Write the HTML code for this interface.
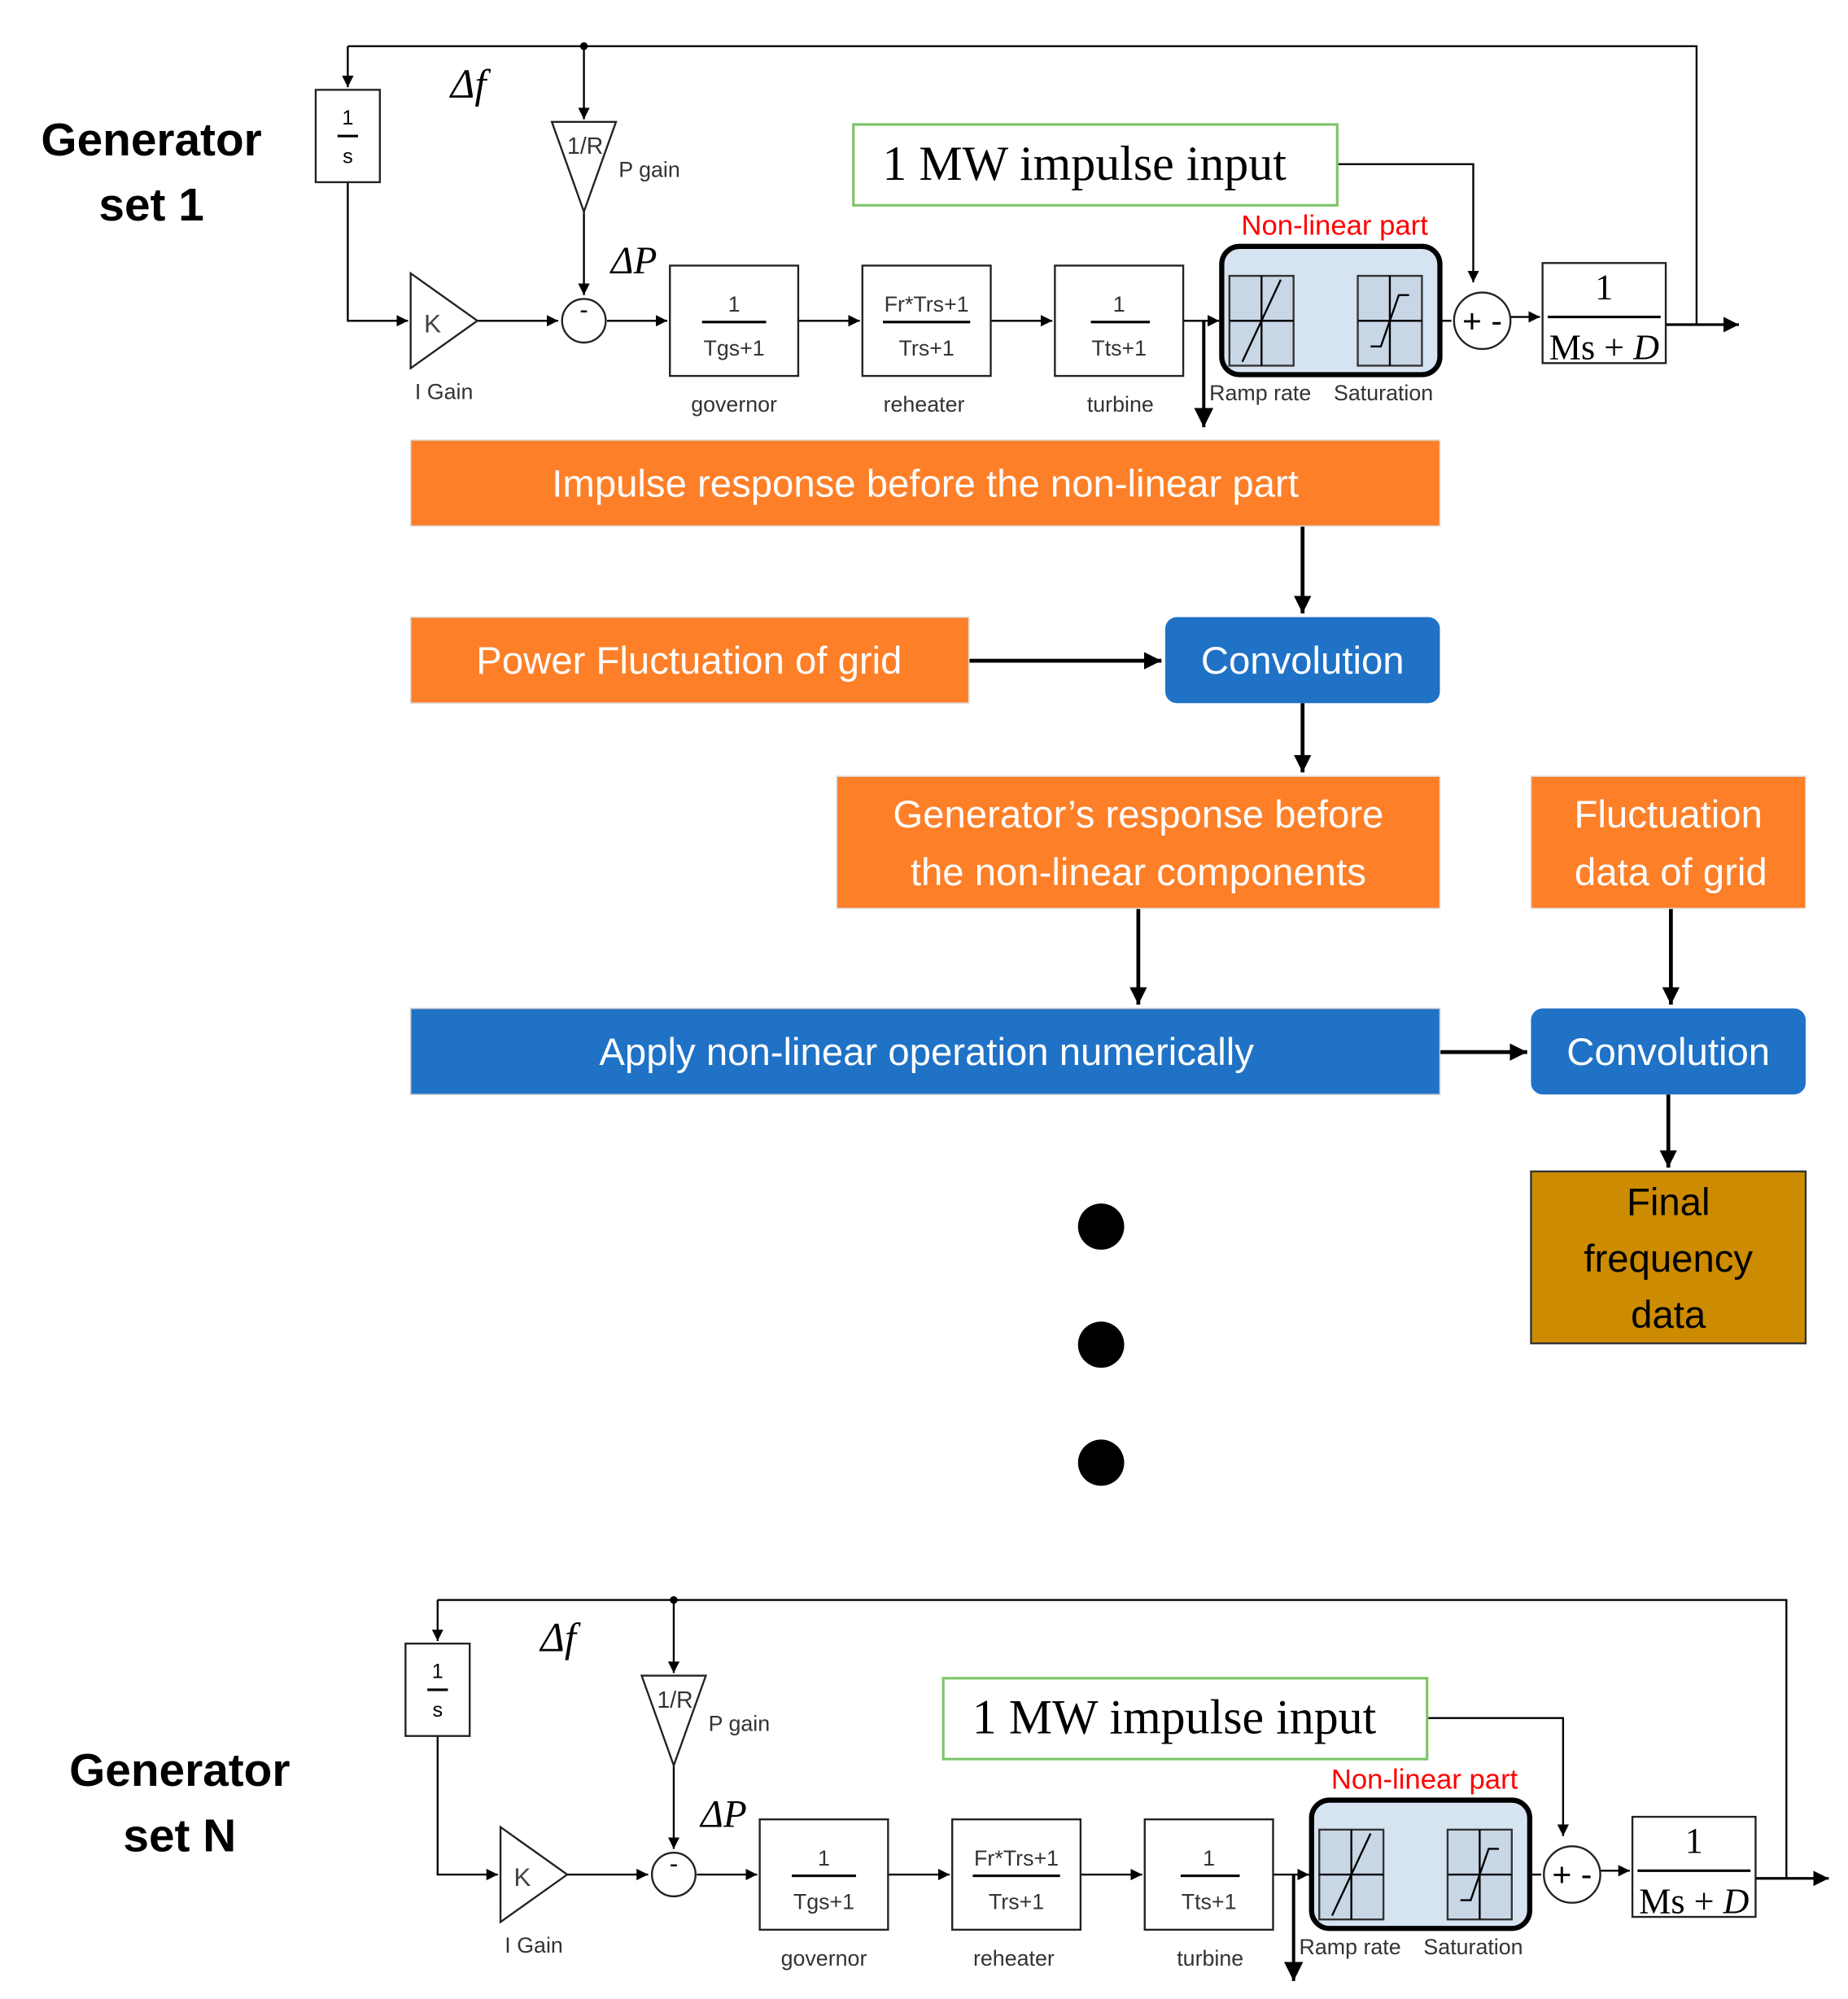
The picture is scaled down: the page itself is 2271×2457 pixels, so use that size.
<!DOCTYPE html>
<html><head><meta charset="utf-8"><style>
html,body{margin:0;padding:0;background:#fff;}
svg{display:block;font-family:"Liberation Sans",sans-serif;}
.wt{fill:#fff;font-size:30px;text-anchor:middle;}
.lb{font-size:17px;fill:#333;text-anchor:middle;font-family:"Liberation Sans Narrow","Liberation Sans",sans-serif;}
.sf{font-family:"Liberation Serif",serif;}
.blk{fill:#fff;stroke:#222;stroke-width:1.5;}
</style></head><body>
<svg width="2271" height="2457" viewBox="0 0 1440 1558" preserveAspectRatio="none" xmlns="http://www.w3.org/2000/svg">
<defs>
<marker id="a" viewBox="0 0 10 10" refX="10" refY="5" markerWidth="6" markerHeight="6" orient="auto"><path d="M0,0L10,5L0,10z" fill="#000"/></marker>
<marker id="b" viewBox="0 0 10 10" refX="10" refY="5" markerWidth="4.5" markerHeight="4.5" orient="auto"><path d="M0,0L10,5L0,10z" fill="#000"/></marker>
<g id="gen">
 <g stroke="#000" stroke-width="1.5" fill="none">
  <path d="M271,36H1322V253"/>
  <path d="M271,36V68" marker-end="url(#a)"/>
  <path d="M455,36V93" marker-end="url(#a)"/>
  <path d="M271,142V250H318" marker-end="url(#a)"/>
  <path d="M372,250H435" marker-end="url(#a)"/>
  <path d="M455,165V230" marker-end="url(#a)"/>
  <path d="M473,250H520" marker-end="url(#a)"/>
  <path d="M622,250H670" marker-end="url(#a)"/>
  <path d="M772,250H820" marker-end="url(#a)"/>
  <path d="M922,250H950" marker-end="url(#a)"/>
  <path d="M1008,250H1056" marker-end="url(#a)"/>
  <path d="M1108,250H1131"/>
  <path d="M1177,247H1200" marker-end="url(#a)"/>
  <path d="M1298,253H1355" marker-end="url(#a)" stroke-width="2"/>
  <path d="M1042,128H1148V220" marker-end="url(#a)"/>
  <path d="M938,250V333" marker-end="url(#a)" stroke-width="2.5"/>
 </g>
 <circle cx="455" cy="36" r="3" fill="#000"/>
 <rect class="blk" x="246" y="70" width="50" height="72"/>
 <text x="271" y="97" font-size="16" text-anchor="middle">1</text>
 <line x1="263" y1="106" x2="279" y2="106" stroke="#000" stroke-width="2"/>
 <text x="271" y="127" font-size="16" text-anchor="middle">s</text>
 <text x="365" y="76" font-size="32" font-style="italic" class="sf" text-anchor="middle">Δf</text>
 <polygon points="430,95 480,95 455,165" class="blk"/>
 <text x="456" y="120" font-size="18" text-anchor="middle" fill="#333">1/R</text>
 <text x="506" y="138" class="lb">P gain</text>
 <text x="494" y="213" font-size="30" font-style="italic" class="sf" text-anchor="middle">ΔP</text>
 <polygon points="320,213 372,250 320,287" class="blk"/>
 <text x="337" y="259" font-size="20" fill="#444" text-anchor="middle">K</text>
 <text x="346" y="311" class="lb">I Gain</text>
 <circle cx="455" cy="250" r="17" class="blk"/>
 <text x="455" y="248" font-size="20" text-anchor="middle">-</text>
 <rect class="blk" x="522" y="207" width="100" height="86"/>
 <text x="572" y="243" class="lb" font-size="20">1</text>
 <line x1="547" y1="251" x2="597" y2="251" stroke="#000" stroke-width="2"/>
 <text x="572" y="277" class="lb" font-size="20">Tgs+1</text>
 <text x="572" y="321" class="lb">governor</text>
 <rect class="blk" x="672" y="207" width="100" height="86"/>
 <text x="722" y="243" class="lb" font-size="19">Fr*Trs+1</text>
 <line x1="688" y1="251" x2="756" y2="251" stroke="#000" stroke-width="2"/>
 <text x="722" y="277" class="lb" font-size="20">Trs+1</text>
 <text x="720" y="321" class="lb">reheater</text>
 <rect class="blk" x="822" y="207" width="100" height="86"/>
 <text x="872" y="243" class="lb" font-size="20">1</text>
 <line x1="850" y1="251" x2="896" y2="251" stroke="#000" stroke-width="2"/>
 <text x="872" y="277" class="lb" font-size="20">Tts+1</text>
 <text x="873" y="321" class="lb">turbine</text>
 <rect x="952" y="192" width="170" height="100" rx="14" fill="#d6e3f0" stroke="#000" stroke-width="4"/>
 <rect x="958" y="215" width="50" height="70" fill="#c8d6e6" stroke="#333" stroke-width="1.5"/>
 <path d="M968,282L998,218M983,215V285M958,250H1008" stroke="#000" stroke-width="1.5" fill="none"/>
 <rect x="1058" y="215" width="50" height="70" fill="#c8d6e6" stroke="#333" stroke-width="1.5"/>
 <path d="M1068,270H1076L1090,230H1098M1083,215V285M1058,250H1108" stroke="#000" stroke-width="1.5" fill="none"/>
 <text x="982" y="312" class="lb">Ramp rate</text>
 <text x="1078" y="312" class="lb">Saturation</text>
 <text x="1040" y="183" font-size="22" fill="#f00" text-anchor="middle">Non-linear part</text>
 <circle cx="1155" cy="250" r="22" class="blk"/>
 <text x="1155" y="259" font-size="26" text-anchor="middle">+ -</text>
 <rect class="blk" x="1202" y="205" width="96" height="78"/>
 <text x="1250" y="233" font-size="28" class="sf" text-anchor="middle">1</text>
 <line x1="1206" y1="247" x2="1294" y2="247" stroke="#000" stroke-width="2"/>
 <text x="1250" y="280" font-size="28" class="sf" text-anchor="middle">Ms + <tspan font-style="italic">D</tspan></text>
 <rect x="665" y="97" width="377" height="63" fill="#fff" stroke="#7cc46a" stroke-width="2"/>
 <text x="845" y="140" font-size="38" class="sf" text-anchor="middle">1 MW impulse input</text>
</g>
</defs>
<use href="#gen"/>
<text x="118" y="121" font-size="36" font-weight="bold" text-anchor="middle">Generator</text>
<text x="118" y="172" font-size="36" font-weight="bold" text-anchor="middle">set 1</text>

<g stroke="#000" stroke-width="3" fill="none">
 <path d="M1015,410V478" marker-end="url(#b)"/>
 <path d="M755,515H905" marker-end="url(#b)"/>
 <path d="M1015,548V602" marker-end="url(#b)"/>
 <path d="M887,708V783" marker-end="url(#b)"/>
 <path d="M1302,708V783" marker-end="url(#b)"/>
 <path d="M1122,820H1190" marker-end="url(#b)"/>
 <path d="M1300,853V910" marker-end="url(#b)"/>
</g>
<rect x="320" y="343" width="802" height="67" fill="#fd7f28" stroke="#ddd"/>
<text x="721" y="387" class="wt">Impulse response before the non-linear part</text>
<rect x="320" y="481" width="435" height="67" fill="#fd7f28" stroke="#ddd"/>
<text x="537" y="525" class="wt">Power Fluctuation of grid</text>
<rect x="908" y="481" width="214" height="67" rx="9" fill="#1f72c6"/>
<text x="1015" y="525" class="wt">Convolution</text>
<rect x="652" y="605" width="470" height="103" fill="#fd7f28" stroke="#ddd"/>
<text x="887" y="645" class="wt">Generator’s response before</text>
<text x="887" y="690" class="wt">the non-linear components</text>
<rect x="1193" y="605" width="214" height="103" fill="#fd7f28" stroke="#ddd"/>
<text x="1300" y="645" class="wt">Fluctuation</text>
<text x="1302" y="690" class="wt">data of grid</text>
<rect x="320" y="786" width="802" height="67" fill="#1f72c6" stroke="#ccc"/>
<text x="722" y="830" class="wt">Apply non-linear operation numerically</text>
<rect x="1193" y="786" width="214" height="67" rx="9" fill="#1f72c6"/>
<text x="1300" y="830" class="wt">Convolution</text>
<rect x="1193" y="913" width="214" height="134" fill="#cc8b00" stroke="#333" stroke-width="1.5"/>
<text x="1300" y="947" font-size="30" text-anchor="middle">Final</text>
<text x="1300" y="991" font-size="30" text-anchor="middle">frequency</text>
<text x="1300" y="1035" font-size="30" text-anchor="middle">data</text>
<circle cx="858" cy="956" r="18" fill="#000"/>
<circle cx="858" cy="1048" r="18" fill="#000"/>
<circle cx="858" cy="1140" r="18" fill="#000"/>

<use href="#gen" transform="translate(70,1211)"/>
<text x="140" y="1392" font-size="36" font-weight="bold" text-anchor="middle">Generator</text>
<text x="140" y="1443" font-size="36" font-weight="bold" text-anchor="middle">set N</text>
</svg>
</body></html>
